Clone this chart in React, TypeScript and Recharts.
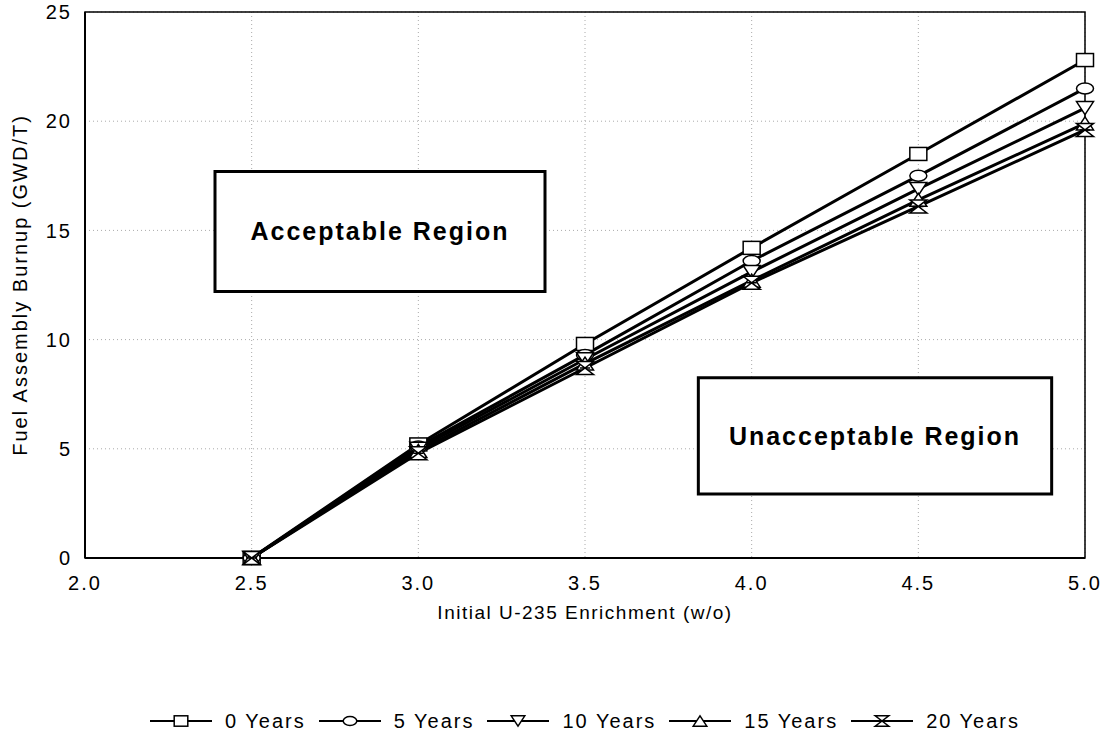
import {
  LineChart,
  Line,
  XAxis,
  YAxis,
  CartesianGrid,
  Legend,
  ReferenceArea,
} from "recharts";

const enrichment = [2.5, 3.0, 3.5, 4.0, 4.5, 5.0];
const years0 = [0, 5.2, 9.8, 14.2, 18.5, 22.8];
const years5 = [0, 5.1, 9.3, 13.6, 17.5, 21.5];
const years10 = [0, 5.0, 9.1, 13.1, 16.9, 20.6];
const years15 = [0, 4.9, 8.9, 12.7, 16.4, 19.9];
const years20 = [0, 4.8, 8.7, 12.6, 16.1, 19.6];

const xTicks = [2.0, 2.5, 3.0, 3.5, 4.0, 4.5, 5.0];
const yTicks = [0, 5, 10, 15, 20, 25];

const seriesNames = ["0 Years", "5 Years", "10 Years", "15 Years", "20 Years"];
const seriesKeys = ["y0", "y5", "y10", "y15", "y20"];
const seriesShapes = ["square", "circle", "down", "up", "hourglass"];

const data = enrichment.map((e, i) => ({
  e,
  y0: years0[i],
  y5: years5[i],
  y10: years10[i],
  y15: years15[i],
  y20: years20[i],
}));

const FONT = "Liberation Sans, Arial, sans-serif";

const Marker = ({ shape, cx, cy, s = 1 }: { shape: string; cx: number; cy: number; s?: number }) => {
  const p = { fill: "#fff", stroke: "#000", strokeWidth: 1.5 };
  const w = 8.5 * s;
  const h = 6.5 * s;
  if (shape === "square") return <rect x={cx - w} y={cy - h} width={2 * w} height={2 * h} {...p} />;
  if (shape === "circle") return <ellipse cx={cx} cy={cy} rx={w} ry={5.5 * s} {...p} />;
  if (shape === "down")
    return <path d={`M${cx - w},${cy - h} L${cx + w},${cy - h} L${cx},${cy + h} Z`} {...p} />;
  if (shape === "up")
    return <path d={`M${cx - w},${cy + h} L${cx + w},${cy + h} L${cx},${cy - h} Z`} {...p} />;
  return (
    <path
      d={`M${cx - w},${cy - h} L${cx + w},${cy - h} L${cx - w},${cy + h} L${cx + w},${cy + h} Z M${cx - w * 0.6},${cy} L${cx + w * 0.6},${cy}`}
      {...p}
    />
  );
};

const LegendContent = () => (
  <div
    style={{
      display: "flex",
      justifyContent: "center",
      alignItems: "center",
      height: 26,
      fontFamily: FONT,
      fontSize: 20,
      letterSpacing: 2,
    }}
  >
    {seriesNames.map((n, i) => (
      <div key={n} style={{ display: "flex", alignItems: "center", marginRight: i < 4 ? 13 : 0 }}>
        <svg width={62} height={20}>
          <line x1={0} y1={10} x2={62} y2={10} stroke="#000" strokeWidth={2} />
          <Marker shape={seriesShapes[i]} cx={31} cy={10} s={0.8} />
        </svg>
        <span style={{ marginLeft: 13 }}>{n}</span>
      </div>
    ))}
  </div>
);

const XLabel = ({ viewBox }: any) => (
  <text
    x={viewBox.x + viewBox.width / 2}
    y={viewBox.y + 61}
    textAnchor="middle"
    fontFamily={FONT}
    fontSize={19}
    letterSpacing={1.5}
    fill="#000"
  >
    Initial U-235 Enrichment (w/o)
  </text>
);

const YLabel = ({ viewBox }: any) => {
  const x = viewBox.x + 27;
  const y = viewBox.y + viewBox.height / 2;
  return (
    <text
      x={x}
      y={y}
      transform={`rotate(-90, ${x}, ${y})`}
      textAnchor="middle"
      fontFamily={FONT}
      fontSize={20}
      letterSpacing={2}
      fill="#000"
    >
      Fuel Assembly Burnup (GWD/T)
    </text>
  );
};

const boxLabel = {
  position: "center" as const,
  fontSize: 25,
  fontWeight: "bold",
  letterSpacing: 2,
  fill: "#000",
  fontFamily: FONT,
};

export default function App() {
  return (
    <div style={{ position: "absolute", left: 0, top: 0, background: "#fff" }}>
      <LineChart
        width={1104}
        height={736}
        data={data}
        margin={{ top: 12, right: 19, left: 0, bottom: 2 }}
      >
        <CartesianGrid stroke="#aaa" strokeDasharray="1 3" />
        <ReferenceArea x1={2} x2={5} y1={0} y2={25} fill="none" stroke="#000" strokeWidth={1.5} />
        <XAxis
          dataKey="e"
          type="number"
          domain={[2, 5]}
          ticks={xTicks}
          tickFormatter={(v) => v.toFixed(1)}
          tickLine={false}
          tickMargin={12}
          height={150}
          stroke="#000"
          strokeWidth={2}
          tick={{ fill: "#000", fontSize: 20, fontFamily: FONT, letterSpacing: 2 }}
          label={<XLabel />}
        />
        <YAxis
          type="number"
          domain={[0, 25]}
          ticks={yTicks}
          tickLine={false}
          tickMargin={7}
          width={85}
          stroke="#000"
          strokeWidth={2}
          tick={{ fill: "#000", fontSize: 20, fontFamily: FONT, letterSpacing: 2 }}
          label={<YLabel />}
        />
        <ReferenceArea
          x1={2.39}
          x2={3.38}
          y1={12.2}
          y2={17.7}
          fill="#fff"
          fillOpacity={1}
          stroke="#000"
          strokeWidth={3}
          label={{ ...boxLabel, value: "Acceptable Region" }}
        />
        <ReferenceArea
          x1={3.84}
          x2={4.9}
          y1={2.93}
          y2={8.25}
          fill="#fff"
          fillOpacity={1}
          stroke="#000"
          strokeWidth={3}
          label={{ ...boxLabel, value: "Unacceptable Region" }}
        />
        <Legend
          verticalAlign="bottom"
          content={<LegendContent />}
          wrapperStyle={{ left: 85, width: 1000 }}
        />
        {seriesKeys.map((k, i) => (
          <Line
            key={k}
            dataKey={k}
            name={seriesNames[i]}
            stroke="#000"
            strokeWidth={3}
            isAnimationActive={false}
            dot={(props: any) => <Marker key={`${k}-${props.index}`} shape={seriesShapes[i]} cx={props.cx} cy={props.cy} />}
          />
        ))}
      </LineChart>
    </div>
  );
}
